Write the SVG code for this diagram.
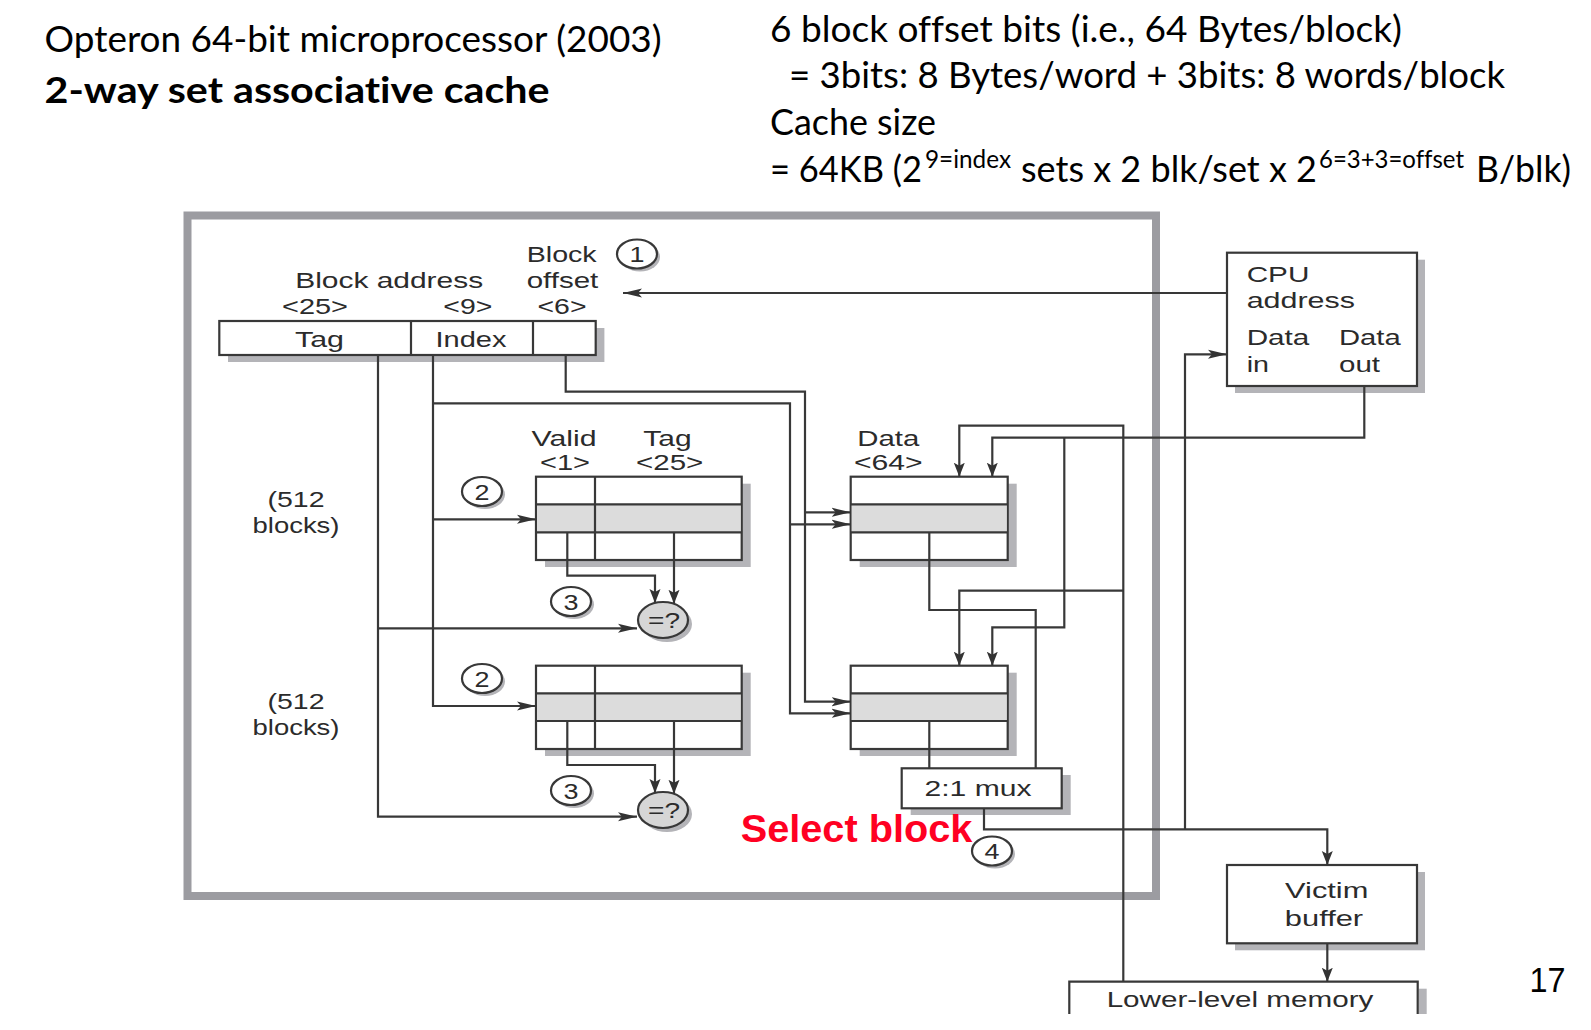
<svg xmlns="http://www.w3.org/2000/svg" width="1591" height="1030" viewBox="0 0 1591 1030">
<defs>
  <marker id="arrH" markerUnits="userSpaceOnUse" markerWidth="20" markerHeight="10" viewBox="0 0 20 10" refX="19" refY="5" orient="auto">
    <path d="M0,0.5 L19,5 L0,9.5 L4,5 z" fill="#333"/>
  </marker>
  <marker id="arrV" markerUnits="userSpaceOnUse" markerWidth="15" markerHeight="12" viewBox="0 0 15 12" refX="14" refY="6" orient="auto">
    <path d="M0,0.5 L14,6 L0,11.5 L3,6 z" fill="#333"/>
  </marker>
</defs>
<style>
  .ln{fill:none;stroke:#383838;stroke-width:2.2}
  .lnH{fill:none;stroke:#383838;stroke-width:2.2;marker-end:url(#arrH)}
  .lnV{fill:none;stroke:#383838;stroke-width:2.2;marker-end:url(#arrV)}
  .box{fill:#fff;stroke:#383838;stroke-width:2.2}
  .shd{fill:#b4b4b8}
  .band{fill:#dcdcdc}
  .cmp{fill:#d6d6d6;stroke:#383838;stroke-width:2.2}
  .frame{fill:none;stroke:#9c9ca1;stroke-width:8}
  .lbl{font-family:"Liberation Sans",Arial,sans-serif;font-size:21.5px;fill:#2b2b2b}
  .num{font-family:"Liberation Sans",Arial,sans-serif;font-size:22px;fill:#2b2b2b;text-anchor:middle}
  .mid{text-anchor:middle}
  .note{font-family:Lato,"Liberation Sans",sans-serif;font-size:37px;fill:#000;font-variant-ligatures:none}
  .red{font-family:"Liberation Sans",Arial,sans-serif;font-size:39.5px;font-weight:700;fill:#ff0022}
</style>

<!-- heading text -->
<g id="heading">
  <text class="note" x="44.6" y="51.7" textLength="617" lengthAdjust="spacingAndGlyphs">Opteron 64-bit microprocessor (2003)</text>
  <text class="note" x="44.6" y="103.3" font-weight="700" textLength="505" lengthAdjust="spacingAndGlyphs">2-way set associative cache</text>
</g>
<g id="notes">
  <text class="note" x="770" y="41.7" textLength="632" lengthAdjust="spacingAndGlyphs">6 block offset bits (i.e., 64 Bytes/block)</text>
  <text class="note" x="789" y="88.3" textLength="716" lengthAdjust="spacingAndGlyphs">= 3bits: 8 Bytes/word + 3bits: 8 words/block</text>
  <text class="note" x="770" y="135" textLength="166" lengthAdjust="spacingAndGlyphs">Cache size</text>
  <text class="note" y="181.7"><tspan x="770" textLength="152" lengthAdjust="spacingAndGlyphs">= 64KB (2</tspan><tspan x="925" y="168.3" font-size="25" textLength="86" lengthAdjust="spacingAndGlyphs">9=index</tspan><tspan x="1021" y="181.7" textLength="296" lengthAdjust="spacingAndGlyphs">sets x 2 blk/set x 2</tspan><tspan x="1319" y="168.3" font-size="25" textLength="145" lengthAdjust="spacingAndGlyphs">6=3+3=offset</tspan><tspan x="1476" y="181.7" textLength="95" lengthAdjust="spacingAndGlyphs">B/blk)</tspan></text>
</g>

<!-- cache boundary -->
<rect id="cache-frame" class="frame" x="187.5" y="215.5" width="968.5" height="680.5"/>

<!-- address register -->
<g id="address">
  <rect class="shd" x="228" y="328" width="376.4" height="34"/>
  <rect class="box" x="219.3" y="321" width="376.4" height="34"/>
  <path class="ln" d="M411,321 V355 M533,321 V355"/>
  <text class="lbl mid" x="389.2" y="288.3" textLength="188" lengthAdjust="spacingAndGlyphs">Block address</text>
  <text class="lbl mid" x="315" y="313.5" textLength="66" lengthAdjust="spacingAndGlyphs">&lt;25&gt;</text>
  <text class="lbl mid" x="467.8" y="313.5" textLength="49" lengthAdjust="spacingAndGlyphs">&lt;9&gt;</text>
  <text class="lbl mid" x="562" y="313.5" textLength="49" lengthAdjust="spacingAndGlyphs">&lt;6&gt;</text>
  <text class="lbl mid" x="561.7" y="262.3" textLength="70" lengthAdjust="spacingAndGlyphs">Block</text>
  <text class="lbl mid" x="562.5" y="288.3" textLength="71.7" lengthAdjust="spacingAndGlyphs">offset</text>
  <text class="lbl mid" x="319.5" y="346.7" textLength="49" lengthAdjust="spacingAndGlyphs">Tag</text>
  <text class="lbl mid" x="471" y="346.7" textLength="71" lengthAdjust="spacingAndGlyphs">Index</text>
</g>

<!-- tag arrays -->
<g id="tags-way1">
  <rect class="shd" x="545" y="483.7" width="205.7" height="83.3"/>
  <rect class="box" x="536" y="476.7" width="205.7" height="83.3"/>
  <rect class="band" x="537" y="504.3" width="203.7" height="28"/>
  <path class="ln" d="M536,504.3 H741.7 M536,532.3 H741.7 M595,476.7 V560"/>
  <text class="lbl mid" x="564" y="445.7" textLength="65" lengthAdjust="spacingAndGlyphs">Valid</text>
  <text class="lbl mid" x="565" y="470" textLength="50" lengthAdjust="spacingAndGlyphs">&lt;1&gt;</text>
  <text class="lbl mid" x="667.5" y="445.7" textLength="48.3" lengthAdjust="spacingAndGlyphs">Tag</text>
  <text class="lbl mid" x="669.7" y="470" textLength="67.3" lengthAdjust="spacingAndGlyphs">&lt;25&gt;</text>
  <text class="lbl mid" x="296" y="507" textLength="57" lengthAdjust="spacingAndGlyphs">(512</text>
  <text class="lbl mid" x="296" y="533" textLength="87" lengthAdjust="spacingAndGlyphs">blocks)</text>
</g>
<g id="tags-way2">
  <rect class="shd" x="545" y="672.7" width="205.7" height="83.3"/>
  <rect class="box" x="536" y="665.7" width="205.7" height="83.3"/>
  <rect class="band" x="537" y="693.3" width="203.7" height="27.7"/>
  <path class="ln" d="M536,693.3 H741.7 M536,721 H741.7 M595,665.7 V749"/>
  <text class="lbl mid" x="296" y="708.5" textLength="57" lengthAdjust="spacingAndGlyphs">(512</text>
  <text class="lbl mid" x="296" y="734.5" textLength="87" lengthAdjust="spacingAndGlyphs">blocks)</text>
</g>

<!-- data arrays -->
<g id="data-way1">
  <rect class="shd" x="859.7" y="483.7" width="157" height="83.3"/>
  <rect class="box" x="850.7" y="476.7" width="157" height="83.3"/>
  <rect class="band" x="851.7" y="504.3" width="155" height="28"/>
  <path class="ln" d="M850.7,504.3 H1007.7 M850.7,532.3 H1007.7"/>
  <text class="lbl mid" x="888.3" y="445.7" textLength="62" lengthAdjust="spacingAndGlyphs">Data</text>
  <text class="lbl mid" x="888.3" y="469.5" textLength="68.7" lengthAdjust="spacingAndGlyphs">&lt;64&gt;</text>
</g>
<g id="data-way2">
  <rect class="shd" x="859.7" y="672.7" width="157" height="83.3"/>
  <rect class="box" x="850.7" y="665.7" width="157" height="83.3"/>
  <rect class="band" x="851.7" y="693.3" width="155" height="27.7"/>
  <path class="ln" d="M850.7,693.3 H1007.7 M850.7,721 H1007.7"/>
</g>

<!-- comparators -->
<g id="compare-way1">
  <ellipse class="shd" cx="667" cy="624" rx="25" ry="18"/>
  <ellipse class="cmp" cx="663" cy="620" rx="25" ry="18"/>
  <text class="lbl mid" x="664" y="628.3" textLength="32" lengthAdjust="spacingAndGlyphs">=?</text>
</g>
<g id="compare-way2">
  <ellipse class="shd" cx="667" cy="814" rx="25" ry="18"/>
  <ellipse class="cmp" cx="663" cy="810" rx="25" ry="18"/>
  <text class="lbl mid" x="664" y="818" textLength="32" lengthAdjust="spacingAndGlyphs">=?</text>
</g>

<!-- multiplexer -->
<g id="mux">
  <rect class="shd" x="910.7" y="775" width="160" height="40"/>
  <rect class="box" x="901.7" y="768.3" width="160" height="40"/>
  <text class="lbl mid" x="978" y="795.7" textLength="107" lengthAdjust="spacingAndGlyphs">2:1 mux</text>
</g>

<!-- CPU -->
<g id="cpu">
  <rect class="shd" x="1235" y="259.7" width="190" height="133.3"/>
  <rect class="box" x="1227" y="252.7" width="190" height="133.3"/>
  <text class="lbl" x="1246.7" y="281.7" textLength="62.7" lengthAdjust="spacingAndGlyphs">CPU</text>
  <text class="lbl" x="1246.7" y="308.3" textLength="108.3" lengthAdjust="spacingAndGlyphs">address</text>
  <text class="lbl" x="1246.7" y="345" textLength="62.7" lengthAdjust="spacingAndGlyphs">Data</text>
  <text class="lbl" x="1246.7" y="371.7" textLength="22.3" lengthAdjust="spacingAndGlyphs">in</text>
  <text class="lbl" x="1339" y="345" textLength="61.7" lengthAdjust="spacingAndGlyphs">Data</text>
  <text class="lbl" x="1339" y="371.7" textLength="41" lengthAdjust="spacingAndGlyphs">out</text>
</g>

<!-- victim buffer -->
<g id="victim">
  <rect class="shd" x="1235" y="872" width="190" height="78.3"/>
  <rect class="box" x="1227" y="865" width="190" height="78.3"/>
  <text class="lbl mid" x="1326.7" y="898.3" textLength="83.3" lengthAdjust="spacingAndGlyphs">Victim</text>
  <text class="lbl mid" x="1324" y="926" textLength="78.3" lengthAdjust="spacingAndGlyphs">buffer</text>
</g>

<!-- lower-level memory (runs off the bottom) -->
<g id="lower-memory">
  <rect class="shd" x="1418.7" y="988.7" width="8" height="25.3"/>
  <rect x="1069.3" y="981.7" width="348.4" height="40" fill="#fff"/>
  <path class="ln" d="M1069.3,1014 V981.7 H1417.7 V1014"/>
  <text class="lbl mid" x="1240" y="1006.7" textLength="266.7" lengthAdjust="spacingAndGlyphs">Lower-level memory</text>
</g>
<rect x="1060" y="1014" width="380" height="16" fill="#fff"/>

<!-- step markers -->
<g id="step1">
  <ellipse class="shd" cx="640" cy="257" rx="20" ry="14.5"/>
  <ellipse class="box" cx="637" cy="254" rx="20" ry="14.5"/>
  <text class="num" x="637" y="262" textLength="15" lengthAdjust="spacingAndGlyphs">1</text>
</g>
<g id="step2a">
  <ellipse class="shd" cx="485" cy="494.5" rx="20" ry="14.5"/>
  <ellipse class="box" cx="482" cy="491.5" rx="20" ry="14.5"/>
  <text class="num" x="482" y="499.5" textLength="15" lengthAdjust="spacingAndGlyphs">2</text>
</g>
<g id="step2b">
  <ellipse class="shd" cx="485" cy="681.5" rx="20" ry="14.5"/>
  <ellipse class="box" cx="482" cy="678.5" rx="20" ry="14.5"/>
  <text class="num" x="482" y="686.5" textLength="15" lengthAdjust="spacingAndGlyphs">2</text>
</g>
<g id="step3a">
  <ellipse class="shd" cx="574" cy="604.5" rx="20" ry="14.5"/>
  <ellipse class="box" cx="571" cy="601.5" rx="20" ry="14.5"/>
  <text class="num" x="571" y="609.5" textLength="15" lengthAdjust="spacingAndGlyphs">3</text>
</g>
<g id="step3b">
  <ellipse class="shd" cx="574" cy="793.5" rx="20" ry="14.5"/>
  <ellipse class="box" cx="571" cy="790.5" rx="20" ry="14.5"/>
  <text class="num" x="571" y="798.5" textLength="15" lengthAdjust="spacingAndGlyphs">3</text>
</g>
<g id="step4">
  <ellipse class="shd" cx="995" cy="854" rx="20" ry="14.5"/>
  <ellipse class="box" cx="992" cy="851" rx="20" ry="14.5"/>
  <text class="num" x="992" y="859" textLength="15" lengthAdjust="spacingAndGlyphs">4</text>
</g>

<!-- wiring -->
<g id="connectors">
  <path class="lnH" d="M1227,293 H623"/>
  <path class="lnH" d="M378,355 V816.7 H637"/>
  <path class="lnH" d="M378,628.3 H637"/>
  <path class="lnH" d="M433,355 V706 H536"/>
  <path class="lnH" d="M433,519.3 H536"/>
  <path class="lnH" d="M433,403.3 H790 V713.3 H850.7"/>
  <path class="lnH" d="M790,524.3 H850.7"/>
  <path class="lnH" d="M565.7,355 V391.7 H805 V701.7 H850.7"/>
  <path class="lnH" d="M805,512.3 H850.7"/>
  <path class="lnV" d="M567.3,532.3 V575.7 H655 V603"/>
  <path class="lnV" d="M674,532.3 V603.8"/>
  <path class="lnV" d="M567.3,721 V765 H655 V793"/>
  <path class="lnV" d="M674,721 V793.8"/>
  <path class="ln" d="M929.3,532.3 V610 H1035.7 V768.3"/>
  <path class="ln" d="M929.3,721 V768.3"/>
  <path class="lnV" d="M984,808.3 V829.3 H1327.3 V865"/>
  <path class="lnH" d="M1185,829.3 V354.3 H1227"/>
  <path class="lnV" d="M1364.3,386 V437.7 H992.3 V476.7"/>
  <path class="lnV" d="M1064.3,437.7 V627.3 H992.3 V665.7"/>
  <path class="lnV" d="M1123.3,981.7 V425.7 H959.3 V476.7"/>
  <path class="lnV" d="M1123.3,590.7 H959.3 V665.7"/>
  <path class="lnV" d="M1327.3,943.3 V981.7"/>
</g>

<text class="red" x="740.7" y="841.7" textLength="231.7" lengthAdjust="spacingAndGlyphs">Select block</text>
<text x="1529.6" y="991.7" font-family="Liberation Sans, Arial, sans-serif" font-size="35" fill="#000" textLength="36" lengthAdjust="spacingAndGlyphs">17</text>
</svg>
